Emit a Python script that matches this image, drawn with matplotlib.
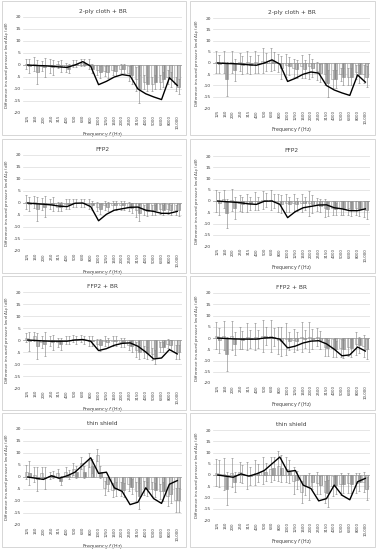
import numpy as np
import matplotlib.pyplot as plt
from matplotlib.patches import Rectangle

plt.rcParams['font.family'] = ['DejaVu Sans']
plt.rcParams['axes.unicode_minus'] = False

freqs = ['125', '160', '200', '250', '315', '400', '500', '630', '800', '1000',
         '1250', '1600', '2000', '2500', '3150', '4000', '5000', '6300', '8000', '10,000']

titles = ['2-ply cloth + BR', 'FFP2', 'FFP2 + BR', 'thin shield']

# black reference curve, shared by the left and right panel of a row
line_cloth = [0, -0.2, -0.3, -0.5, -0.8, -1, 0, 1.4, -0.5, -8.2, -6.8, -5, -4, -4.5, -10, -12, -13.3, -14.4, -5.3, -8.5]
line_ffp2 = [0, -0.3, -0.5, -0.8, -1.3, -1.5, -0.1, 0, -1.5, -7.4, -4.7, -3, -2.4, -1.8, -1.7, -3, -3.5, -4.3, -4.3, -3.5]
line_ffp2br = [0, -0.2, -0.4, -0.5, -0.5, -0.5, 0, 0.2, -0.5, -4.4, -3.6, -2.2, -1.4, -1.2, -2.6, -5, -7.9, -7.5, -4, -5.8]
line_shield = [0, -0.5, -1, 0.5, -0.5, 0.5, 2, 5, 8, 1.5, 2, -4.5, -6, -11.5, -10.5, -4.5, -9, -11, -3, -1.5]

# left column bars (two series) and their spreads
cloth_l_a = [0.5, 0.5, -0.5, -0.5, 0.3, -1, 0.5, 1, 0.5, -2, -2.5, -2, -1.5, -3.5, -6, -7, -8, -7, -5, -8]
cloth_l_b = [-0.5, -3, -1, -1, -0.5, -1.5, 0.5, 1, -1.5, -3, -3, -2.5, -1.5, -4, -10, -8, -7, -6, -6, -9]
cloth_l_ea = [2, 3, 2, 3, 1.5, 2, 1.5, 1.5, 2, 2, 2, 2, 2, 3, 5, 3, 3, 3, 3, 3]
cloth_l_eb = [3, 5, 4, 3, 2.5, 2, 1.5, 1.5, 2, 2.5, 2.5, 2, 2, 4, 6, 3, 3, 3, 3, 3]
ffp2_l_a = [0.5, 0.5, -0.5, -0.5, -1.5, -0.5, 0, 0, -0.5, -1.5, -1, -1, -1, -1.5, -3, -3, -3, -2.5, -2.5, -3]
ffp2_l_b = [-0.5, -2.5, -1.5, -0.5, -1.5, -0.5, 0, 0, -1, -2.5, -1.5, -1, -1, -2, -4, -3.5, -3, -3, -3, -3]
ffp2_l_ea = [3, 2.5, 2.5, 2, 2, 2, 1.5, 1.5, 2, 2, 2, 2, 2, 2, 3, 2, 2, 2, 2, 2]
ffp2_l_eb = [3, 5, 4.5, 3, 2, 2, 1.5, 1.5, 2, 2, 2, 2, 2, 2, 3.5, 2, 2, 2, 2, 2.5]
ffp2br_l_a = [1, 1.5, -1, -0.5, -1, 0, 0.5, 0.5, -0.5, -1.5, -0.5, -0.5, -1, -2, -4, -5, -6, -3, -1.5, -5]
ffp2br_l_b = [-0.5, -2.5, -1.5, -1, -1.5, 0, 0, 0, -0.5, -2, -1, -0.5, -1, -2.5, -5, -5.5, -7, -3, -2, -5]
ffp2br_l_ea = [2, 2, 2.5, 2, 2, 1.5, 1.5, 1.5, 2, 2, 2, 2, 2, 2, 3, 2.5, 2.5, 2, 2, 3]
ffp2br_l_eb = [4, 5.5, 5, 3, 2.5, 1.5, 1.5, 1.5, 2, 2.5, 2, 2, 2, 2.5, 3, 2.5, 3, 2, 2, 3]
shield_l_a = [2, 1, 1.5, 0.5, 1.5, 2, 3.5, 6, 7, 9, -4.5, -5.5, -5, -3, -6, -4.5, -5, -6, -8, -9.5]
shield_l_b = [1.5, -1, -0.5, 1, -1.5, 1, 2, 2, 4.5, 2, -3, -5, -5.5, -4, -8, -5, -5.5, -6, -7, -9.5]
shield_l_ea = [3, 3, 2.5, 1.5, 2, 2, 2.5, 2.5, 3, 2.5, 3, 3, 3, 3, 4, 3, 3, 3, 4, 5]
shield_l_eb = [5, 5, 4.5, 1.5, 2, 2, 2.5, 2.5, 3, 2.5, 3, 3, 3, 3, 5.5, 3, 3, 4, 4, 5]

# right column bars (two series) and their spreads
cloth_r_a = [0.5, 0.5, 0.5, 0.5, 0.5, 0.5, 1, 1.5, 0, -1, -2, -1.5, -1.5, -3.5, -5, -7, -5, -6, -4, -5]
cloth_r_b = [-0.5, -7, -3, -1, -1, -0.5, 0.5, 1, -2, -1.5, -2.5, -2.5, -2, -4.5, -9, -7, -6, -6, -5, -6]
cloth_r_ea = [5, 5, 5, 4, 5, 5, 5.5, 5, 4, 5, 4, 5, 5.5, 4, 5, 4, 3, 4, 3, 4]
cloth_r_eb = [4, 7.5, 5, 4, 4, 4, 4, 4, 5, 4, 4, 4, 4, 4, 6, 4, 4, 4, 4, 4.5]
ffp2_r_a = [0, 1, 0.5, -1, -1, 0, 0.5, 0.5, -1, -1, -1, -1, -1, -1.5, -3, -3, -3, -3, -3, -3.5]
ffp2_r_b = [-1, -5.5, -3, -1.5, -1, -1, 0.5, 0, -1.5, -1.5, -1.5, -1, -1.5, -2, -3.5, -3.5, -3, -3.5, -3.5, -4]
ffp2_r_ea = [5, 4, 5, 3.5, 4, 4, 4, 4.5, 4, 4, 4, 4, 5.5, 3, 4, 3, 3, 3, 3, 3.5]
ffp2_r_eb = [5, 6.5, 5, 3.5, 3, 3, 3, 3, 4, 3.5, 3, 3, 4, 3, 3, 2.5, 3, 3, 3, 4]
ffp2br_r_a = [1, 1, 1, 0, 0.5, 0.5, 1, 1, -1, -0.5, -1, 0.5, 0.5, 0.5, -4, -4.5, -4.5, -4, -2.5, -3.5]
ffp2br_r_b = [-1, -7, -2.5, -1, -0.5, -0.5, 1, 0.5, -1.5, -1.5, -1.5, -0.5, -0.5, -1, -4.5, -5, -5, -4.5, -3, -5]
ffp2br_r_ea = [6, 6.5, 6.5, 5, 6, 6, 7, 7, 6, 7, 5, 6.5, 6.5, 4, 4, 4, 4, 4, 5, 5]
ffp2br_r_eb = [5.5, 7.5, 5, 4, 4, 4, 4, 4, 6.5, 4, 4, 4, 4.5, 4, 3.5, 3.5, 4, 4, 3.5, 4.5]
shield_r_a = [1, 0.5, 1, 1.5, 0, 1, 2, 2.5, 4, 2.5, -2.5, -7.5, -5, -3.5, -7.5, -5, -4, -3.5, -3.5, -3]
shield_r_b = [0.5, -6, -3, 0.5, -0.5, 1, 1.5, 3, 3, 1.5, -2, -4.5, -3, -4.5, -8, -4.5, -4, -4, -3, -6]
shield_r_ea = [6, 7, 6.5, 4.5, 6, 5.5, 6, 5.5, 6.5, 5.5, 6, 5, 6, 5, 5, 4.5, 5, 4.5, 4.5, 4.5]
shield_r_eb = [6, 7.5, 4.5, 4, 4, 4, 4, 5, 6, 5, 4, 4.5, 3, 4, 6, 4, 4, 4, 4, 5]

left_panels = [(cloth_l_a, cloth_l_b, cloth_l_ea, cloth_l_eb),
               (ffp2_l_a, ffp2_l_b, ffp2_l_ea, ffp2_l_eb),
               (ffp2br_l_a, ffp2br_l_b, ffp2br_l_ea, ffp2br_l_eb),
               (shield_l_a, shield_l_b, shield_l_ea, shield_l_eb)]
right_panels = [(cloth_r_a, cloth_r_b, cloth_r_ea, cloth_r_eb),
                (ffp2_r_a, ffp2_r_b, ffp2_r_ea, ffp2_r_eb),
                (ffp2br_r_a, ffp2br_r_b, ffp2br_r_ea, ffp2br_r_eb),
                (shield_r_a, shield_r_b, shield_r_ea, shield_r_eb)]
lines = [line_cloth, line_ffp2, line_ffp2br, line_shield]

W, H = 377, 550
fig = plt.figure(figsize=(W / 100, H / 100), dpi=100)

row_top = [0, 138, 275, 412]


def px_axes(x0, y0, x1, y1):
    return fig.add_axes([x0 / W, 1 - y1 / H, (x1 - x0) / W, (y1 - y0) / H])


def draw_panel(ax, data, line, title):
    a, b, ea, eb = data
    x = np.arange(len(freqs))
    w = 0.38
    ek = dict(ecolor='#8c8c8c', elinewidth=0.45, capsize=1.0, capthick=0.45)
    ax.bar(x - w / 2, a, w, yerr=ea, color='#f4f4f4', edgecolor='#9a9a9a',
           linewidth=0.4, error_kw=ek, zorder=2)
    ax.bar(x + w / 2, b, w, yerr=eb, color='#c8c8c8', edgecolor='#8a8a8a',
           linewidth=0.4, hatch='||||', error_kw=ek, zorder=2)
    ax.plot(x, line, color='black', lw=1.0, zorder=3)
    ax.axhline(0, color='#a6a6a6', lw=0.6, zorder=1)
    ax.set_xlim(-0.6, len(freqs) - 0.4)
    ax.set_ylim(-20, 20)
    ax.set_yticks(range(-20, 21, 5))
    ax.grid(axis='y', color='#dcdcdc', lw=0.5, zorder=0)
    ax.set_axisbelow(True)
    for s in ax.spines.values():
        s.set_visible(False)
    ax.set_xticks(x)
    ax.set_xticklabels(freqs, rotation=90, fontsize=2.8, color='#404040')
    ax.tick_params(axis='y', labelsize=3.2, labelcolor='#404040', length=0, pad=1.5)
    ax.tick_params(axis='x', length=0, pad=1.5)
    ax.set_title(title, fontsize=4.2, color='#404040', pad=3)
    ax.set_xlabel(r'Frequency $f$ (Hz)', fontsize=3.4, color='#404040', labelpad=1)
    ax.set_ylabel(r'Difference in sound pressure level $\Delta L_\mathrm{p}$ (dB)',
                  fontsize=2.9, color='#404040', labelpad=1.5)


for k in range(4):
    t = row_top[k]
    fig.patches.append(Rectangle((2 / W, 1 - (t + 135) / H), 184 / W, 134 / H,
                                 transform=fig.transFigure, fill=False,
                                 edgecolor='#d0d0d0', lw=0.6))
    fig.patches.append(Rectangle((190 / W, 1 - (t + 135) / H), 185 / W, 134 / H,
                                 transform=fig.transFigure, fill=False,
                                 edgecolor='#d0d0d0', lw=0.6))
    axl = px_axes(23, t + 17, 182, t + 113)
    draw_panel(axl, left_panels[k], lines[k], titles[k])
    axr = px_axes(213, t + 18, 370, t + 108)
    draw_panel(axr, right_panels[k], lines[k], titles[k])

fig.savefig('out.png', dpi=100)
